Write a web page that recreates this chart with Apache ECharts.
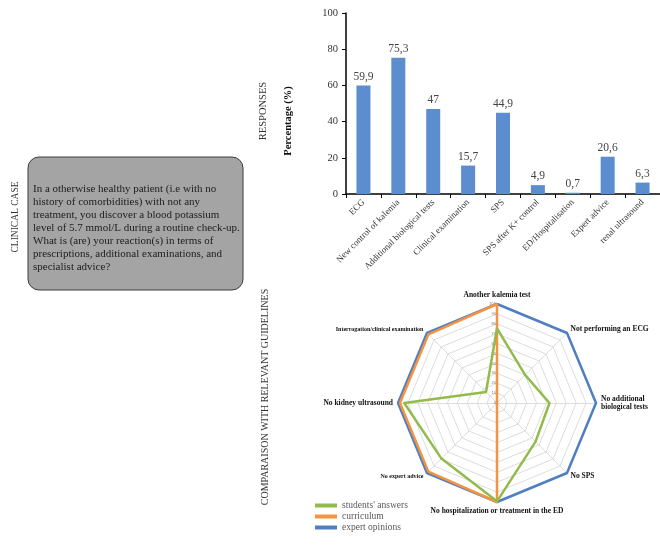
<!DOCTYPE html>
<html>
<head>
    <meta charset="utf-8">
    <script src="https://cdn.jsdelivr.net/npm/echarts@6/dist/echarts.min.js"></script>
    <style>
        html, body { margin: 0; padding: 0; background: #fff; }
    </style>
</head>
<body>
<div id="chart" style="width: 660px; height: 556px;"></div>
<script type="text/javascript">
    // Bar chart data (responses)
    var responseCategories = ['ECG', 'New control of kalemia', 'Additional biological tests', 'Clinical examination',
        'SPS', 'SPS after K+ control', 'ED/Hospitalisation', 'Expert advice', 'renal ultrasound'];
    var responseValues = [59.9, 75.3, 47, 15.7, 44.9, 4.9, 0.7, 20.6, 6.3];
    var yTicks = [0, 20, 40, 60, 80, 100];

    // Radar data, listed clockwise starting from the top
    var radarAxes = ['Another kalemia test', 'Not performing an ECG', 'No additional\nbiological tests', 'No SPS',
        'No hospitalization or treatment in the ED', 'No expert advice', 'No kidney ultrasound',
        'Interrogation/clinical examination'];
    var studentsAnswers = [75.3, 40.1, 53, 55.1, 99.3, 79.4, 93.7, 15.7];
    var curriculum = [100, 0, 0, 0, 100, 98, 98, 98];
    var expertOpinions = [100, 100, 100, 100, 100, 100, 100, 100];

    var clinicalCase = [
        'In a otherwise healthy patient (i.e with no',
        'history of comorbidities) with not any',
        'treatment, you discover a blood potassium',
        'level of 5.7 mmol/L during a routine check-up.',
        'What is (are) your reaction(s) in terms of',
        'prescriptions, additional examinations, and',
        'specialist advice?'
    ];

    var serif = '"Liberation Serif", "DejaVu Serif", serif';

    // echarts radar goes counter-clockwise, so flip the order after the first axis
    function cw(arr) {
        return [arr[0]].concat(arr.slice(1).reverse());
    }
    var smallNames = ['No expert advice', 'Interrogation/clinical examination'];

    var chart = echarts.init(document.getElementById('chart'));
    var option = {
        animation: false,
        grid: { left: 346, top: 13, width: 314, height: 181 },
        xAxis: {
            type: 'category',
            data: responseCategories,
            axisLine: { lineStyle: { color: '#000', width: 1.5 } },
            axisTick: { show: true, length: 4, lineStyle: { color: '#000' } },
            axisLabel: {
                interval: 0, rotate: 45, margin: 7,
                fontFamily: serif, fontSize: 9, color: '#333'
            }
        },
        yAxis: {
            type: 'value',
            min: 0, max: 100, interval: 20,
            axisLine: { show: true, lineStyle: { color: '#000', width: 1.5 } },
            axisTick: { show: true, length: 4, lineStyle: { color: '#000' } },
            splitLine: { show: false },
            axisLabel: {
                fontFamily: serif, fontSize: 10.5, color: '#333', margin: 8,
                formatter: function (v) { return yTicks.indexOf(v) >= 0 ? String(v) : ''; }
            }
        },
        legend: {
            orient: 'vertical',
            left: 315, top: 500,
            padding: 0,
            itemWidth: 22, itemHeight: 4, itemGap: 0,
            icon: 'rect',
            data: ["students' answers", 'curriculum', 'expert opinions'],
            textStyle: { fontFamily: serif, fontSize: 9.5, color: '#595959', lineHeight: 11 }
        },
        radar: {
            center: [497, 403],
            radius: 99,
            shape: 'polygon',
            splitNumber: 10,
            nameGap: 5,
            indicator: cw(radarAxes).map(function (n, i) {
                var ind = { name: n, min: 0, max: 100 };
                if (i === 0) {
                    ind.axisLabel = { show: true, fontSize: 4, color: '#777', margin: 1, showMaxLabel: true };
                }
                return ind;
            }),
            axisName: {
                fontFamily: serif, fontWeight: 'bold', fontSize: 7.5, color: '#111',
                formatter: function (name) {
                    return smallNames.indexOf(name) >= 0 ? '{s|' + name + '}' : name;
                },
                rich: {
                    s: { fontFamily: serif, fontWeight: 'bold', fontSize: 6, color: '#111' }
                }
            },
            axisLine: { lineStyle: { color: '#dcdcdc' } },
            splitLine: { lineStyle: { color: '#dcdcdc' } },
            splitArea: { show: false },
            axisLabel: { show: false }
        },
        series: [
            {
                type: 'bar',
                data: responseValues,
                barWidth: 14,
                itemStyle: { color: '#5b8dcf' },
                label: {
                    show: true, position: 'top', distance: 3,
                    fontFamily: serif, fontSize: 11.5, color: '#444',
                    formatter: function (p) { return String(p.value).replace('.', ','); }
                }
            },
            {
                type: 'radar',
                symbol: 'none',
                data: [
                    { name: 'expert opinions', value: cw(expertOpinions),
                        lineStyle: { color: '#4f7fc0', width: 2.5 }, itemStyle: { color: '#4f7fc0' } },
                    { name: 'curriculum', value: cw(curriculum),
                        lineStyle: { color: '#f5933f', width: 2.5 }, itemStyle: { color: '#f5933f' } },
                    { name: "students' answers", value: cw(studentsAnswers),
                        lineStyle: { color: '#92bb4c', width: 2.5 }, itemStyle: { color: '#92bb4c' } }
                ]
            }
        ],
        graphic: [
            {
                type: 'rect',
                shape: { x: 28, y: 157, width: 215, height: 133, r: 11 },
                style: { fill: '#a4a4a4', stroke: '#3c3c3c', lineWidth: 1 }
            },
            {
                type: 'text', x: 33, y: 183,
                style: {
                    text: clinicalCase.join('\n'),
                    font: '11px ' + serif, fill: '#1c1c1c', lineHeight: 13
                }
            },
            {
                type: 'text', x: 15, y: 217, rotation: Math.PI / 2,
                style: { text: 'CLINICAL CASE', font: '9.5px ' + serif, fill: '#333',
                    align: 'center', verticalAlign: 'middle' }
            },
            {
                type: 'text', x: 263, y: 111, rotation: Math.PI / 2,
                style: { text: 'RESPONSES', font: '10.5px ' + serif, fill: '#333',
                    align: 'center', verticalAlign: 'middle' }
            },
            {
                type: 'text', x: 288, y: 121, rotation: Math.PI / 2,
                style: { text: 'Percentage (%)', font: 'bold 10.5px ' + serif, fill: '#111',
                    align: 'center', verticalAlign: 'middle' }
            },
            {
                type: 'text', x: 265, y: 397, rotation: Math.PI / 2,
                style: { text: 'COMPARAISON WITH RELEVANT GUIDELINES', font: '10px ' + serif, fill: '#333',
                    align: 'center', verticalAlign: 'middle' }
            }
        ]
    };
    chart.setOption(option);
</script>
</body>
</html>
